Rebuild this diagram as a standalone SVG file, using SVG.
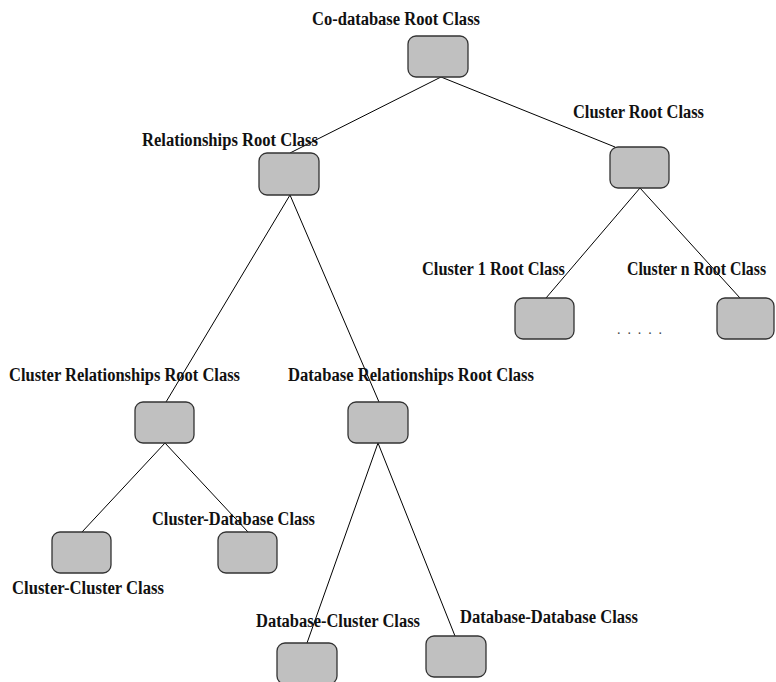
<svg xmlns="http://www.w3.org/2000/svg" width="776" height="682" viewBox="0 0 776 682">
  <style>
    .bg { fill: #ffffff; }
    .edge { stroke: #000000; stroke-width: 1; fill: none; }
    .box { fill: #c0c0c0; stroke: #333333; stroke-width: 1.3; }
    .lbl { font-family: "Liberation Serif", "Times New Roman", serif; font-weight: bold; font-size: 18px; fill: #111111; }
    .dots { font-family: "Liberation Serif", "Times New Roman", serif; font-size: 14px; fill: #444444; }
  </style>
  <rect class="bg" x="0" y="0" width="776" height="682"/>

  <!-- tree edges -->
  <g id="connectors">
    <line class="edge" x1="441" y1="77" x2="290" y2="153"/>
    <line class="edge" x1="441" y1="77" x2="615" y2="147"/>
    <line class="edge" x1="290" y1="195" x2="166" y2="402"/>
    <line class="edge" x1="290" y1="195" x2="379" y2="402"/>
    <line class="edge" x1="640" y1="188" x2="546" y2="298"/>
    <line class="edge" x1="640" y1="188" x2="740" y2="298"/>
    <line class="edge" x1="165" y1="443" x2="82" y2="532"/>
    <line class="edge" x1="165" y1="443" x2="248" y2="532"/>
    <line class="edge" x1="378" y1="443" x2="307" y2="643"/>
    <line class="edge" x1="378" y1="443" x2="455" y2="636"/>
  </g>

  <g id="codatabase-root">
    <rect class="box" x="408" y="36" width="60" height="41" rx="8"/>
    <text class="lbl" x="312" y="25" textLength="168" lengthAdjust="spacingAndGlyphs">Co-database Root Class</text>
  </g>

  <g id="relationships-root">
    <rect class="box" x="259" y="153" width="60" height="42" rx="8"/>
    <text class="lbl" x="142" y="146" textLength="176" lengthAdjust="spacingAndGlyphs">Relationships Root Class</text>
  </g>

  <g id="cluster-root">
    <rect class="box" x="610" y="147" width="59" height="41" rx="8"/>
    <text class="lbl" x="573" y="118" textLength="131" lengthAdjust="spacingAndGlyphs">Cluster Root Class</text>
  </g>

  <g id="cluster-1-root">
    <rect class="box" x="515" y="298" width="59" height="41" rx="8"/>
    <text class="lbl" x="422" y="275" textLength="143" lengthAdjust="spacingAndGlyphs">Cluster 1 Root Class</text>
  </g>

  <g id="cluster-n-root">
    <rect class="box" x="717" y="298" width="57" height="41" rx="8"/>
    <!-- narrowed horizontally so the label stays inside the right edge -->
    <text class="lbl" transform="translate(627,275) scale(0.88,1)" x="0" y="0">Cluster n Root Class</text>
  </g>

  <text class="dots" x="617" y="334" textLength="45" lengthAdjust="spacing">. . . . .</text>

  <g id="cluster-relationships-root">
    <rect class="box" x="135" y="402" width="59" height="41" rx="8"/>
    <text class="lbl" x="9" y="381" textLength="231" lengthAdjust="spacingAndGlyphs">Cluster Relationships Root Class</text>
  </g>

  <g id="database-relationships-root">
    <rect class="box" x="348" y="402" width="60" height="41" rx="8"/>
    <text class="lbl" x="288" y="381" textLength="246" lengthAdjust="spacingAndGlyphs">Database Relationships Root Class</text>
  </g>

  <g id="cluster-cluster">
    <rect class="box" x="52" y="532" width="59" height="41" rx="8"/>
    <text class="lbl" x="12" y="594" textLength="152" lengthAdjust="spacingAndGlyphs">Cluster-Cluster Class</text>
  </g>

  <g id="cluster-database">
    <rect class="box" x="218" y="532" width="59" height="41" rx="8"/>
    <text class="lbl" x="152" y="525" textLength="163" lengthAdjust="spacingAndGlyphs">Cluster-Database Class</text>
  </g>

  <g id="database-cluster">
    <rect class="box" x="277" y="643" width="60" height="41" rx="8"/>
    <text class="lbl" x="256" y="627" textLength="164" lengthAdjust="spacingAndGlyphs">Database-Cluster Class</text>
  </g>

  <g id="database-database">
    <rect class="box" x="426" y="636" width="60" height="41" rx="8"/>
    <text class="lbl" x="460" y="623" textLength="178" lengthAdjust="spacingAndGlyphs">Database-Database Class</text>
  </g>
</svg>
